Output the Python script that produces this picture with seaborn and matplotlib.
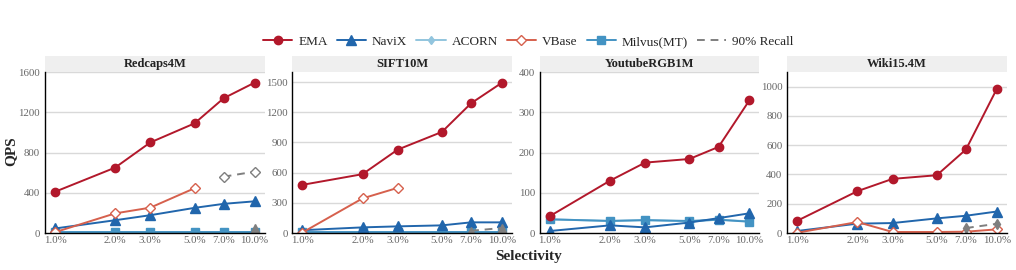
import matplotlib
matplotlib.use("Agg")
import matplotlib.pyplot as plt
from matplotlib.lines import Line2D
from matplotlib.patches import Rectangle
import pandas as pd
import seaborn as sns

# Selectivity levels (%)
selectivity = [1, 2, 3, 5, 7, 10]
tick_labels = ["1.0%", "2.0%", "3.0%", "5.0%", "7.0%", "10.0%"]
datasets = ["Redcaps4M", "SIFT10M", "YoutubeRGB1M", "Wiki15.4M"]

# QPS values
redcaps_ema = [410, 650, 900, 1090, 1340, 1495]
redcaps_navix = [45, 127, 177, 250, 290, 315]
redcaps_acorn = [4, 4, 4, 4, 4, 4]
redcaps_vbase = [8, 195, 252, 445]
redcaps_milvus = [10, 10, 10, 10, 10, 10]

sift_ema = [479, 585, 829, 1005, 1290, 1495]
sift_navix = [28, 56, 66, 76, 106, 106]
sift_vbase = [5, 344, 449]
sift_milvus = [12, 12, 12, 12, 12, 12]

youtube_ema = [42, 130, 175, 184, 214, 330]
youtube_navix = [5, 19, 14, 26, 37, 49]
youtube_acorn = [34, 30, 32, 29, 33, 29]
youtube_milvus = [34, 30, 32, 30, 33, 28]

wiki_ema = [84, 286, 370, 395, 571, 986]
wiki_navix = [14, 64, 68, 100, 118, 147]
wiki_vbase = [2, 75, 7, 7, 9, 25]

# points that only reach 90% recall (grey dashed)
redcaps_vbase_90 = [560, 610]
redcaps_navix_90 = [45]
sift_navix_90 = [22, 50]
wiki_acorn_90 = [34, 63]

ylims = [(0, 1600), (0, 1600), (0, 400), (0, 1100)]
yticks = [[0, 400, 800, 1200, 1600], [0, 300, 600, 900, 1200, 1500],
          [0, 100, 200, 300, 400], [0, 200, 400, 600, 800, 1000]]

colors = {"EMA": "#b2182b", "NaviX": "#2166ac", "ACORN": "#92c5de",
          "VBase": "#d6604d", "Milvus(MT)": "#4393c3", "90% Recall": "#7f7f7f"}
markers = {"EMA": "o", "NaviX": "^", "ACORN": "d", "VBase": "D", "Milvus(MT)": "s"}
msizes = {"EMA": 6, "NaviX": 6.5, "ACORN": 4.5, "VBase": 5.5, "Milvus(MT)": 5.5}

panels = [
    {"ACORN": redcaps_acorn, "Milvus(MT)": redcaps_milvus, "NaviX": redcaps_navix,
     "VBase": redcaps_vbase, "EMA": redcaps_ema},
    {"Milvus(MT)": sift_milvus, "NaviX": sift_navix, "VBase": sift_vbase, "EMA": sift_ema},
    {"ACORN": youtube_acorn, "Milvus(MT)": youtube_milvus, "NaviX": youtube_navix,
     "EMA": youtube_ema},
    {"NaviX": wiki_navix, "VBase": wiki_vbase, "EMA": wiki_ema},
]
recall_90 = [
    [([7, 10], redcaps_vbase_90, "D", "white"), ([10], redcaps_navix_90, "^", "#7f7f7f")],
    [([7, 10], sift_navix_90, "^", "#7f7f7f")],
    [],
    [([7, 10], wiki_acorn_90, "d", "#7f7f7f")],
]

sns.set_theme(style="white")
plt.rcParams["font.family"] = ["Liberation Serif", "DejaVu Serif"]

fig, axes = plt.subplots(1, 4, figsize=(10.16, 2.7), dpi=100)
fig.subplots_adjust(left=0.0443, right=0.991, bottom=0.137, top=0.733, wspace=0.127)

for i, ax in enumerate(axes):
    for method, vals in panels[i].items():
        df = pd.DataFrame({"sel": selectivity[:len(vals)], "qps": vals})
        mfc = "white" if method == "VBase" else colors[method]
        sns.lineplot(data=df, x="sel", y="qps", ax=ax, color=colors[method],
                     marker=markers[method], markersize=msizes[method],
                     markerfacecolor=mfc, markeredgecolor=colors[method],
                     markeredgewidth=1.0, linewidth=1.4)
    for xs, ys, mk, fc in recall_90[i]:
        df = pd.DataFrame({"sel": xs, "qps": ys})
        sns.lineplot(data=df, x="sel", y="qps", ax=ax, color="#7f7f7f",
                     linestyle=(0, (4, 3)), linewidth=1.4, marker=mk,
                     markersize=5.5, markerfacecolor=fc, markeredgecolor="#7f7f7f",
                     markeredgewidth=1.0)

    ax.set_xscale("log")
    ax.set_xlim(0.891, 11.22)
    ax.set_xticks(selectivity)
    ax.set_xticklabels(tick_labels)
    ax.minorticks_off()
    ax.set_ylim(*ylims[i])
    ax.set_yticks(yticks[i])
    ax.set_xlabel("")
    ax.set_ylabel("")
    ax.tick_params(axis="both", labelsize=7.8, colors="#666666", length=2, pad=1.5)
    ax.tick_params(axis="x", length=0, pad=2)
    for t in yticks[i][1:]:
        ax.axhline(t, color="#d9d9d9", linewidth=1.0, zorder=0)
    for s in ["top", "right"]:
        ax.spines[s].set_visible(False)
    for s in ["left", "bottom"]:
        ax.spines[s].set_color("black")
        ax.spines[s].set_linewidth(1.0)

    # facet header
    ax.add_patch(Rectangle((0, 1.0), 1.0, 0.1, transform=ax.transAxes,
                           facecolor="#efefef", edgecolor="none", clip_on=False))
    ax.text(0.5, 1.05, datasets[i], transform=ax.transAxes, ha="center", va="center",
            fontsize=9, fontweight="bold", color="#222222")

handles = []
for m in ["EMA", "NaviX", "ACORN", "VBase", "Milvus(MT)"]:
    mfc = "white" if m == "VBase" else colors[m]
    handles.append(Line2D([], [], color=colors[m], marker=markers[m],
                          markersize=msizes[m], markerfacecolor=mfc,
                          markeredgecolor=colors[m], linewidth=1.4, label=m))
handles.append(Line2D([], [], color="#7f7f7f", linestyle=(0, (4, 3)),
                      linewidth=1.4, label="90% Recall"))
fig.legend(handles=handles, loc="center", bbox_to_anchor=(0.52, 0.845), ncol=6,
           frameon=False, fontsize=9.5, handlelength=2.2, columnspacing=0.7,
           handletextpad=0.45)

fig.text(0.52, 0.05, "Selectivity", ha="center", va="center", fontsize=11,
         fontweight="bold")
fig.text(0.011, 0.44, "QPS", ha="center", va="center", rotation=90, fontsize=11,
         fontweight="bold")

fig.savefig("out.png", dpi=100)
